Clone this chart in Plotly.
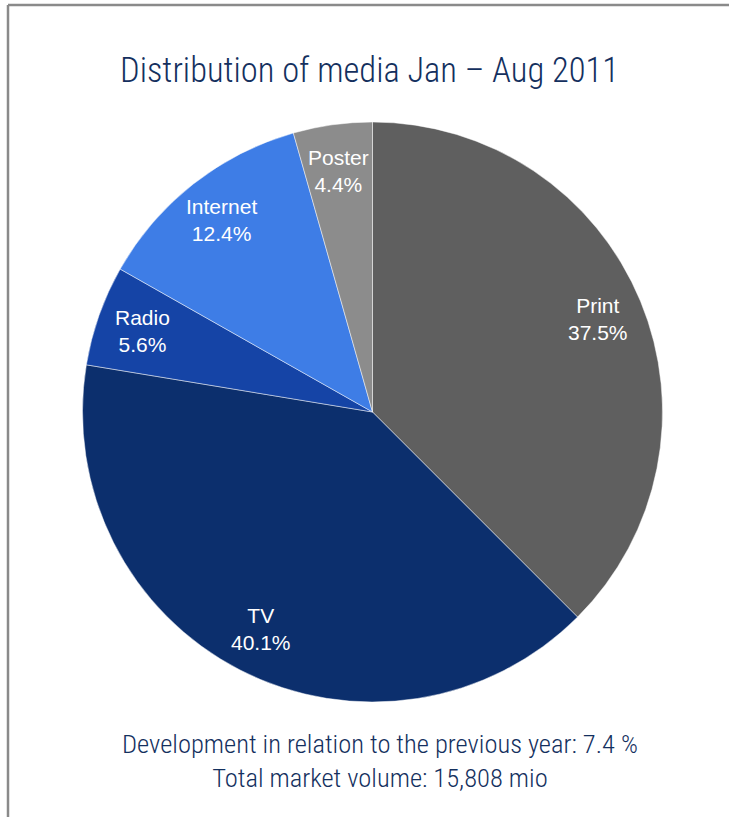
import math
import plotly.graph_objects as go

# Media shares, January to August 2011 (percent of total spend)
media = ["Print", "TV", "Radio", "Internet", "Poster"]
shares = [37.5, 40.1, 5.6, 12.4, 4.4]
colors = ["#5f5f5f", "#0c2f6d", "#1544a6", "#3e7de6", "#8c8c8c"]

title_text = "Distribution of media Jan \u2013 Aug 2011"
footer_lines = [
    "Development in relation to the previous year: 7.4 %",
    "Total market volume: 15,808 mio",
]

W, H = 729, 817
navy = "#14305e"
narrow = "Liberation Sans Narrow, Arial Narrow, Roboto Condensed, sans-serif"

# pie placement in pixels
cx, cy, R = 372.5, 412.0, 290.0
dom_x = [(cx - R) / W, (cx + R) / W]
dom_y = [1 - (cy + R) / H, 1 - (cy - R) / H]

fig = go.Figure(
    go.Pie(
        labels=media,
        values=shares,
        sort=False,
        direction="clockwise",
        rotation=0,
        marker=dict(colors=colors, line=dict(color="rgba(255,255,255,0.6)", width=0.8)),
        textinfo="none",
        hoverinfo="label+percent",
        showlegend=False,
        domain=dict(x=dom_x, y=dom_y),
    )
)

# slice labels placed along each slice's mid-angle
annotations = []
total = sum(shares)
cum = 0.0
for name, v in zip(media, shares):
    mid = (cum + v / 2) / total * 2 * math.pi
    cum += v
    rr = R * 0.84
    px = cx + rr * math.sin(mid)
    py = cy - rr * math.cos(mid)
    annotations.append(
        dict(
            x=px / W, y=1 - py / H, xref="paper", yref="paper",
            text=f"{name}<br>{v:.1f}%", showarrow=False,
            font=dict(family="Liberation Sans, Arial, sans-serif", size=21, color="white"),
            xanchor="center", yanchor="middle",
        )
    )

annotations.append(
    dict(
        x=369.5 / W, y=1 - 70 / H, xref="paper", yref="paper",
        text=title_text, showarrow=False,
        font=dict(family=narrow, size=34.5, color=navy, weight=350),
        xanchor="center", yanchor="middle",
    )
)
annotations.append(
    dict(
        x=380 / W, y=1 - 760 / H, xref="paper", yref="paper",
        text="<br>".join(footer_lines), showarrow=False,
        font=dict(family=narrow, size=26.5, color=navy, weight=350),
        xanchor="center", yanchor="middle",
    )
)

# frame: top and left edges visible, others run off the page
shapes = [
    dict(type="line", xref="paper", yref="paper", x0=8 / W, x1=1.02, y0=1 - 5 / H, y1=1 - 5 / H,
         line=dict(color="#8a8a8a", width=2.5)),
    dict(type="line", xref="paper", yref="paper", x0=8 / W, x1=8 / W, y0=1 - 5 / H, y1=-0.02,
         line=dict(color="#8a8a8a", width=2.5)),
]

fig.update_layout(
    width=W, height=H,
    margin=dict(l=0, r=0, t=0, b=0),
    paper_bgcolor="white",
    plot_bgcolor="white",
    annotations=annotations,
    shapes=shapes,
)

fig.write_html("out.html")
